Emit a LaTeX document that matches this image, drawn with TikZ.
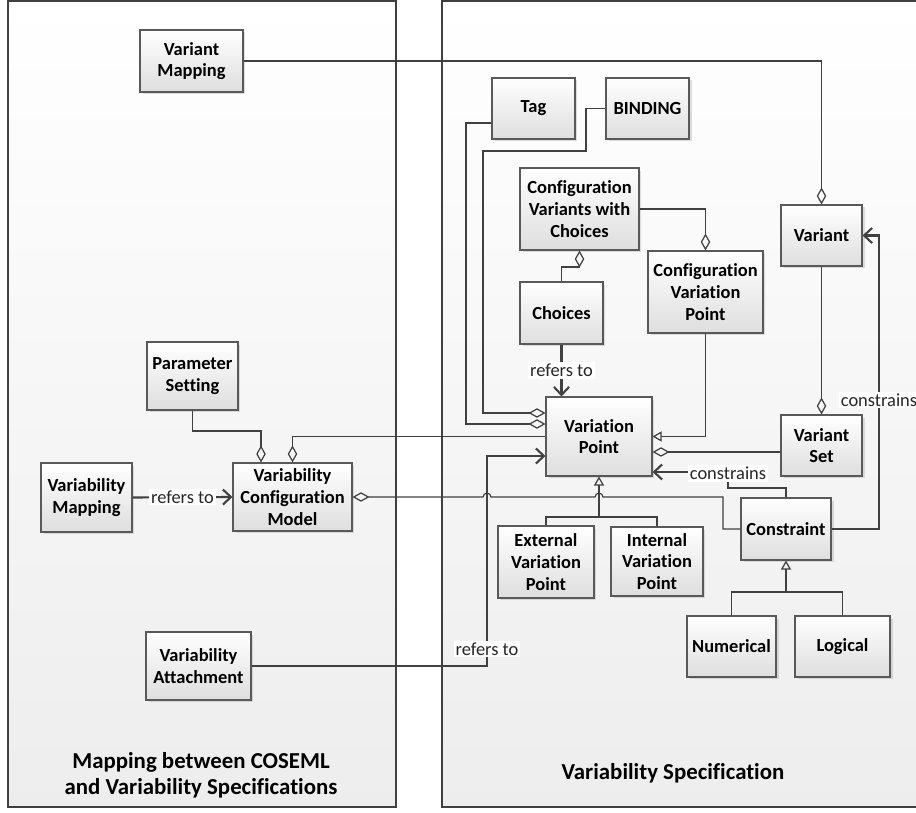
\documentclass[tikz,border=0pt]{standalone}
\usepackage{fontspec}
\setmainfont{Carlito}[Ligatures=NoCommon]
\usetikzlibrary{arrows.meta, shadows}

\tikzset{
  elem/.style={draw=black!65, line width=0.6pt, top color=white, bottom color=black!13,
    drop shadow={shadow xshift=0.05cm, shadow yshift=-0.05cm, opacity=0.25},
    align=center, inner sep=0pt, font=\bfseries\fontsize{10.5}{12.3}\selectfont},
  conn/.style={draw=black!75, line width=0.7pt},
  agg/.style={conn, -{Diamond[open, length=0.34cm, width=0.19cm]}},
  gen/.style={conn, -{Triangle[open, length=0.18cm, width=0.2cm]}},
  ref/.style={conn, line width=1.2pt, -{Straight Barb[length=0.16cm, width=0.3cm]}},
  lbl/.style={fill=white, inner sep=1pt, font=\fontsize{10.5}{12}\selectfont, text=black!85},
  panel/.style={draw=black!75, line width=1.4pt, top color=white, bottom color=black!7},
  title/.style={font=\bfseries\fontsize{13}{15}\selectfont, align=center}
}

\begin{document}
\begin{tikzpicture}[x=0.02cm, y=-0.02cm]
  \useasboundingbox (0,0) rectangle (916,813);

  % the two areas
  \draw[panel] (8,1) rectangle (396,807);
  \draw[panel] (442,1) rectangle (930,807);
  \node[title] (ttlmap) at (201,775) {Mapping between COSEML\\and Variability Specifications};
  \node[title] (ttlspec) at (673,773) {Variability Specification};

  % mapping side
  \node[elem, minimum width=2.06cm, minimum height=1.24cm] (vmap) at (191.5,61) {Variant\\Mapping};
  \node[elem, minimum width=1.82cm, minimum height=1.36cm] (pset) at (192.5,376) {Parameter\\Setting};
  \node[elem, minimum width=1.82cm, minimum height=1.38cm] (vmapping) at (86.5,497.5) {Variability\\Mapping};
  \node[elem, minimum width=2.38cm, minimum height=1.36cm] (vcm) at (292.5,497) {Variability\\Configuration\\Model};
  \node[elem, minimum width=2.10cm, minimum height=1.36cm] (vatt) at (198.5,666) {Variability\\Attachment};

  % specification side
  \node[elem, minimum width=1.66cm, minimum height=1.22cm] (tag) at (533.5,108.5) {Tag};
  \node[elem, minimum width=1.66cm, minimum height=1.22cm] (binding) at (647.5,108.5) {BINDING};
  \node[elem, minimum width=2.38cm, minimum height=1.64cm] (cvc) at (579.5,209) {Configuration\\Variants with\\Choices};
  \node[elem, minimum width=2.30cm, minimum height=1.64cm] (cvp) at (705.5,292) {Configuration\\Variation\\Point};
  \node[elem, minimum width=1.66cm, minimum height=1.24cm] (choices) at (561.5,313) {Choices};
  \node[elem, minimum width=1.62cm, minimum height=1.22cm] (variant) at (821.5,235.5) {Variant};
  \node[elem, minimum width=2.12cm, minimum height=1.58cm] (vp) at (599,436.5) {Variation\\Point};
  \node[elem, minimum width=1.62cm, minimum height=1.22cm] (vset) at (821.5,445.5) {Variant\\Set};
  \node[elem, minimum width=1.80cm, minimum height=1.24cm] (constraint) at (786,529) {Constraint};
  \node[elem, minimum width=1.92cm, minimum height=1.44cm] (evp) at (546,562) {External\\Variation\\Point};
  \node[elem, minimum width=1.84cm, minimum height=1.38cm] (ivp) at (657,561.5) {Internal\\Variation\\Point};
  \node[elem, minimum width=1.78cm, minimum height=1.22cm] (numerical) at (731.5,646.5) {Numerical};
  \node[elem, minimum width=1.90cm, minimum height=1.22cm] (logical) at (842.5,646.5) {Logical};

  % aggregations
  \draw[agg] (vmap.east) -| (variant.north);
  \draw[agg] (variant.south) -- (vset.north);
  \draw[agg] (tag.west |- 0,123) -| (466,424) -- (vp.west |- 0,424);
  \draw[agg] (binding.west) -| (586,151) -| (483,413) -- (vp.west |- 0,413);
  \draw[agg] (cvc.east) -| (cvp.north);
  \draw[agg] (choices.north) |- (579.5,267) -- (cvc.south);
  \draw[agg] (vset.west |- 0,452) -- (vp.east |- 0,452);
  \draw[agg] (vp.west) -| (vcm.north);
  \draw[agg] (pset.south) |- (261,431) -- (vcm.north -| 261,0);
  \draw[agg] (constraint.west) -| (723,497) -- (603,497)
    .. controls (603,492) and (595,492) .. (595,497) -- (491,497)
    .. controls (491,492) and (483,492) .. (483,497) -- (vcm.east);

  % generalizations
  \draw[gen] (cvp.south) |- (vp.east);
  \draw[gen] (evp.north) |- (599,517) -- (vp.south);
  \draw[conn] (ivp.north) |- (599,517);
  \draw[gen] (numerical.north) |- (786,592) -- (constraint.south);
  \draw[conn] (logical.north) |- (786,592);

  % references
  \draw[ref] (choices.south) -- node[lbl] {refers to} (vp.north -| choices.south);
  \draw[ref] (vmapping.east) -- node[lbl] {refers to} (vcm.west);
  \draw[ref] (vatt.east) -| node[lbl, pos=0.54] {refers to} (487,456) -- (vp.west |- 0,456);
  \draw[ref] (constraint.east) -| node[lbl, pos=0.72] {constrains} (879,235.5) -- (variant.east);
  \draw[ref] (constraint.north) |- (728,488) |- node[lbl, pos=0.45] {constrains} (vp.east |- 0,472);
\end{tikzpicture}
\end{document}
